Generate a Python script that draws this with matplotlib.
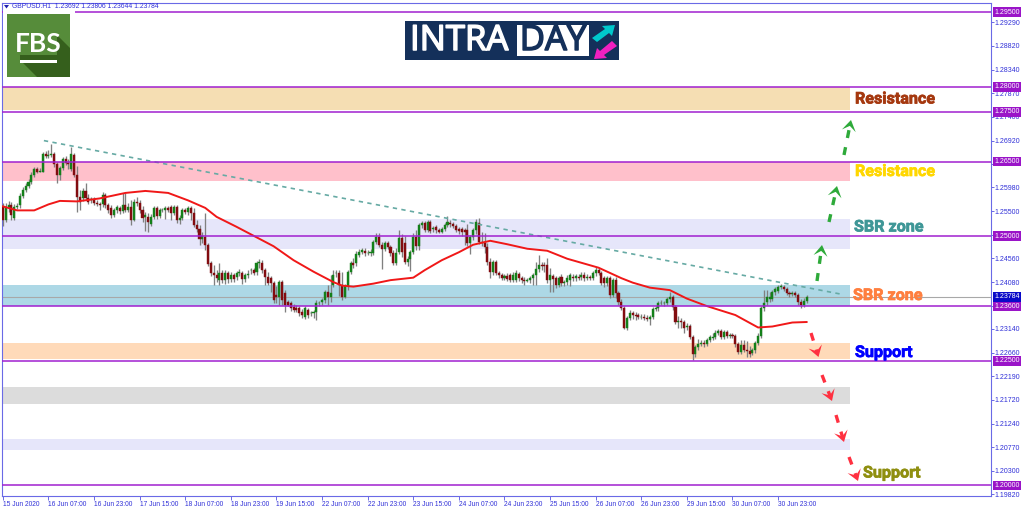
import numpy as np
import matplotlib
matplotlib.use("Agg")
import matplotlib.pyplot as plt
import matplotlib.patheffects as pe
from matplotlib.patches import Polygon, Rectangle

# H1 candles in 1/10000 of a price unit
opens = [12558,12532,12558,12562,12536,12558,12562,12580,12592,12600,
12608,12622,12636,12630,12630,12666,12662,12664,12666,12646,
12622,12638,12656,12648,12636,12664,12622,12578,12576,12590,
12576,12572,12574,12566,12564,12564,12582,12562,12556,12542,
12552,12556,12550,12562,12552,12558,12532,12568,12566,12552,
12538,12538,12524,12538,12556,12540,12552,12552,12556,12558,
12546,12558,12532,12536,12552,12548,12556,12546,12522,12514,
12494,12498,12482,12446,12426,12422,12412,12426,12412,12426,
12414,12422,12418,12426,12426,12414,12422,12432,12432,12428,
12446,12446,12432,12418,12416,12406,12382,12378,12408,12386,
12368,12366,12358,12356,12356,12348,12338,12352,12346,12346,
12348,12366,12368,12372,12388,12378,12402,12426,12426,12402,
12378,12400,12428,12446,12446,12462,12468,12470,12466,12466,
12466,12488,12498,12482,12474,12486,12478,12466,12446,12468,
12496,12486,12448,12454,12468,12498,12480,12522,12526,12512,
12528,12514,12518,12512,12508,12514,12522,12526,12524,12520,
12514,12514,12512,12512,12486,12498,12512,12526,12488,12486,
12478,12448,12428,12448,12426,12422,12416,12420,12422,12412,
12412,12424,12416,12412,12410,12412,12416,12422,12434,12442,
12442,12442,12412,12420,12416,12402,12418,12406,12408,12412,
12418,12416,12418,12418,12422,12416,12418,12416,12426,12432,
12426,12416,12406,12416,12382,12412,12386,12368,12356,12316,
12336,12346,12342,12342,12338,12338,12336,12334,12338,12354,
12356,12366,12366,12366,12374,12378,12358,12328,12330,12328,
12318,12320,12298,12264,12278,12284,12286,12284,12292,12296,
12298,12306,12310,12298,12308,12300,12302,12300,12284,12268,
12282,12272,12270,12266,12272,12286,12300,12356,12368,12374,
12374,12388,12390,12398,12398,12394,12386,12384,12386,12382,
12368,12362,12370]
closes = [12532,12558,12562,12542,12558,12560,12580,12592,12600,12608,
12622,12636,12630,12632,12666,12662,12664,12666,12646,12622,
12638,12656,12648,12646,12666,12622,12578,12568,12590,12576,
12568,12574,12566,12564,12562,12582,12562,12552,12542,12552,
12558,12550,12562,12552,12558,12532,12568,12566,12552,12536,
12542,12528,12538,12556,12540,12552,12552,12556,12552,12546,
12558,12532,12536,12552,12548,12556,12546,12522,12514,12494,
12500,12482,12444,12426,12422,12416,12426,12412,12426,12414,
12422,12414,12426,12428,12414,12422,12424,12432,12426,12446,
12448,12432,12418,12406,12406,12372,12378,12408,12372,12362,
12362,12356,12352,12352,12346,12342,12356,12342,12346,12348,
12366,12366,12372,12388,12378,12386,12422,12426,12402,12378,
12400,12428,12446,12442,12464,12468,12472,12466,12466,12468,
12488,12498,12482,12474,12486,12478,12466,12446,12466,12496,
12468,12448,12454,12468,12498,12480,12522,12526,12512,12528,
12510,12516,12512,12508,12514,12522,12528,12524,12520,12512,
12510,12508,12508,12486,12498,12512,12528,12488,12486,12478,
12448,12428,12448,12426,12422,12416,12420,12414,12412,12422,
12426,12416,12412,12410,12412,12416,12422,12434,12442,12440,
12440,12412,12422,12414,12402,12416,12406,12408,12416,12422,
12416,12420,12416,12422,12416,12418,12416,12426,12432,12426,
12406,12406,12416,12382,12412,12386,12368,12356,12316,12336,
12346,12342,12340,12338,12338,12336,12334,12338,12354,12356,
12366,12366,12366,12374,12378,12358,12328,12330,12328,12316,
12320,12298,12264,12278,12284,12286,12284,12292,12298,12298,
12306,12310,12298,12308,12300,12302,12300,12284,12268,12282,
12272,12270,12264,12272,12286,12300,12356,12366,12378,12378,
12388,12394,12398,12400,12394,12386,12384,12386,12382,12368,
12362,12370,12378]
highs = [12566,12566,12570,12568,12564,12566,12586,12598,12606,12614,
12628,12640,12640,12638,12670,12672,12674,12686,12670,12650,
12642,12660,12662,12656,12680,12668,12642,12592,12596,12606,
12584,12578,12578,12572,12568,12588,12586,12566,12562,12556,
12562,12560,12586,12586,12566,12572,12574,12578,12572,12560,
12548,12546,12544,12560,12560,12556,12556,12560,12560,12562,
12562,12562,12542,12556,12556,12560,12560,12556,12532,12522,
12508,12546,12486,12450,12442,12432,12446,12432,12432,12430,
12428,12426,12430,12434,12430,12426,12432,12436,12436,12450,
12454,12452,12436,12428,12420,12410,12400,12412,12412,12392,
12372,12370,12364,12362,12360,12354,12360,12356,12350,12352,
12372,12370,12376,12392,12402,12422,12432,12432,12432,12428,
12404,12432,12450,12456,12470,12474,12476,12476,12472,12474,
12492,12506,12506,12488,12490,12490,12482,12472,12476,12512,
12504,12500,12460,12472,12506,12512,12526,12530,12530,12532,
12532,12520,12522,12516,12518,12526,12540,12532,12528,12524,
12518,12518,12516,12524,12502,12516,12534,12536,12508,12506,
12486,12456,12452,12452,12430,12426,12424,12426,12426,12428,
12432,12428,12420,12418,12416,12420,12426,12448,12462,12448,
12448,12456,12436,12424,12420,12420,12424,12412,12422,12426,
12424,12424,12424,12428,12428,12424,12422,12430,12438,12436,
12430,12420,12420,12420,12416,12418,12390,12374,12360,12340,
12352,12350,12348,12346,12344,12344,12342,12342,12358,12360,
12370,12372,12370,12378,12388,12382,12362,12340,12336,12332,
12326,12324,12302,12282,12294,12292,12292,12296,12302,12306,
12312,12314,12314,12312,12312,12306,12306,12304,12288,12292,
12292,12290,12280,12276,12290,12306,12360,12392,12392,12388,
12392,12398,12402,12404,12402,12398,12390,12390,12390,12386,
12374,12376,12382]
lows = [12520,12528,12548,12532,12532,12554,12556,12576,12588,12596,
12604,12618,12626,12628,12628,12658,12658,12660,12640,12606,
12612,12634,12644,12636,12632,12618,12548,12552,12570,12572,
12564,12566,12562,12560,12552,12558,12556,12546,12536,12538,
12546,12544,12546,12548,12548,12522,12530,12560,12546,12528,
12510,12508,12520,12534,12534,12536,12548,12534,12548,12532,
12542,12526,12524,12532,12544,12542,12532,12518,12508,12482,
12486,12472,12440,12420,12402,12408,12402,12406,12404,12406,
12408,12408,12412,12420,12404,12408,12416,12424,12422,12422,
12436,12426,12402,12402,12388,12366,12366,12362,12362,12348,
12360,12350,12348,12348,12340,12336,12334,12336,12340,12336,
12332,12360,12362,12366,12362,12368,12398,12418,12380,12372,
12376,12392,12424,12436,12440,12458,12464,12460,12462,12460,
12462,12484,12478,12434,12470,12474,12460,12442,12442,12464,
12458,12444,12440,12430,12464,12472,12472,12516,12508,12508,
12506,12508,12506,12506,12506,12510,12518,12518,12516,12508,
12504,12500,12482,12480,12464,12492,12504,12484,12480,12466,
12442,12416,12422,12422,12416,12412,12412,12410,12408,12408,
12408,12410,12406,12402,12408,12406,12402,12402,12428,12432,
12428,12406,12388,12388,12396,12398,12400,12400,12402,12400,
12410,12410,12412,12412,12410,12412,12412,12412,12420,12422,
12402,12398,12400,12376,12378,12376,12362,12352,12314,12312,
12332,12334,12332,12334,12334,12332,12330,12322,12334,12350,
12350,12362,12360,12362,12368,12352,12324,12316,12316,12306,
12312,12294,12252,12258,12272,12280,12278,12280,12288,12292,
12294,12302,12294,12294,12296,12296,12296,12278,12264,12264,
12268,12258,12258,12262,12266,12282,12296,12350,12362,12368,
12370,12382,12386,12394,12390,12382,12378,12380,12378,12362,
12356,12358,12366]

# moving average, read at some of the bars
ma_bars = [0,5,11,16,20,26,34,43,50,58,65,71,75,82,88,95,102,109,116,119,
           123,130,136,144,148,154,160,165,171,177,184,191,198,209,217,221,
           227,234,240,247,257,265,270,277,282]
ma_vals = [12560,12552,12552,12564,12571,12570,12576,12587,12591,12587,12572,
           12557,12539,12519,12501,12480,12452,12429,12408,12401,12399,12405,
           12412,12417,12432,12452,12468,12483,12491,12484,12475,12471,12455,
           12437,12416,12407,12397,12392,12375,12360,12342,12317,12319,12327,
           12328]

# trend line, bar positions and prices at both ends
trend_bars = [14.4, 294]
trend_vals = [1.2692, 1.2384]

level_vals = [1.295, 1.28, 1.275, 1.265, 1.25, 1.236, 1.225, 1.2]
level_tags = ["1.29500", "1.28000", "1.27500", "1.26500", "1.25000", "1.23600", "1.22500", "1.20000"]
last_price = 1.23784

zone_lo = [1.2754, 1.2610, 1.2474, 1.2360, 1.2254, 1.2164, 1.2072]
zone_hi = [1.2800, 1.2650, 1.2534, 1.2402, 1.2286, 1.2198, 1.2094]
zone_colors = ["#f5deb3", "#ffc0cb", "#e6e6fa", "#add8e6", "#ffdab9", "#dcdcdc", "#e6e6fa"]
zone_end = 297.2

y_ticks = [1.2929, 1.2882, 1.2834, 1.2787, 1.2740, 1.2692, 1.2645, 1.2598, 1.2550, 1.2503,
           1.2456, 1.2408, 1.2361, 1.2314, 1.2266, 1.2219, 1.2172, 1.2124, 1.2077, 1.2030, 1.1982]
# these three sit right under a price tag
y_hidden = [1.2645, 1.2503, 1.2361]
x_labels = ["15 Jun 2020", "16 Jun 07:00", "16 Jun 23:00", "17 Jun 15:00", "18 Jun 07:00",
            "18 Jun 23:00", "19 Jun 15:00", "22 Jun 07:00", "22 Jun 23:00", "23 Jun 15:00",
            "24 Jun 07:00", "24 Jun 23:00", "25 Jun 15:00", "26 Jun 07:00", "26 Jun 23:00",
            "29 Jun 15:00", "30 Jun 07:00", "30 Jun 23:00"]

label_texts = ["Resistance", "Resistance", "SBR zone", "SBR zone", "Support", "Support"]
label_x = [855, 855, 854, 853, 855, 863]
label_y = [99, 171.5, 227, 295.5, 352.5, 473]
label_colors = ["#a5380f", "#ffd700", "#3f9797", "#ff7f3f", "#0000ff", "#8f8f10"]

axis_col = "#6a6ae6"
text_col = "#3030d8"
purple = "#a020d0"

plt.rcParams["font.family"] = ["Liberation Sans", "DejaVu Sans"]
fig = plt.figure(figsize=(10.24, 5.11), dpi=100)
ax = fig.add_axes([2 / 1024, 15 / 511, 989 / 1024, 493 / 511])

o = np.array(opens) / 10000
c = np.array(closes) / 10000
h = np.array(highs) / 10000
l = np.array(lows) / 10000
x = np.arange(len(c))

for lo, hi, col in zip(zone_lo, zone_hi, zone_colors):
    ax.fill_between([-1, zone_end], lo, hi, color=col, lw=0, zorder=1)

ax.axhline(last_price, color="#a8a8a8", lw=0.8, zorder=2)

# candles
up = c >= o
ax.vlines(x, l, h, color="#808080", lw=0.95, zorder=3)
ax.bar(x[up], (c - o)[up], bottom=o[up], width=0.72, color="#14801a", lw=0.3, edgecolor="#14801a", zorder=4)
ax.bar(x[~up], (o - c)[~up], bottom=c[~up], width=0.72, color="#820c10", lw=0.3, edgecolor="#820c10", zorder=4)

ax.plot(ma_bars, np.array(ma_vals) / 10000, color="#f01818", lw=1.4, zorder=5)
ax.plot(trend_bars, trend_vals, color="#66aaa4", lw=1.2, ls=(0, (2.6, 2.6)), zorder=5)
for v in level_vals:
    ax.axhline(v, color=purple, lw=1.1, zorder=6)

ax.set_xlim(-0.3, 346.7)
ax.set_ylim(1.19789, 1.29681)
ax.set_xticks(np.arange(len(x_labels)) * 16)
ax.set_xticklabels(x_labels, ha="left")
ax.set_yticks(y_ticks)
ax.set_yticklabels(["" if v in y_hidden else "%.5f" % v for v in y_ticks])
ax.yaxis.tick_right()
ax.tick_params(axis="x", length=3, width=0.7, color=axis_col, labelcolor=text_col, labelsize=4.8, pad=0.6)
ax.tick_params(axis="y", length=2, width=0.7, color=axis_col, labelcolor=text_col, labelsize=5, pad=0.4)
for s in ax.spines.values():
    s.set_color(axis_col)
    s.set_linewidth(0.8)

# price tags on the right hand scale
for v, t in zip(level_vals, level_tags):
    ax.text(1.0163, v, t, transform=ax.get_yaxis_transform(), ha="center", va="center", color="white",
            fontsize=5, zorder=8, clip_on=False,
            bbox=dict(boxstyle="square,pad=0.2", fc="#9a14c8", ec="none"))
ax.text(1.0163, last_price, "1.23784", transform=ax.get_yaxis_transform(), ha="center", va="center",
        color="white", fontsize=5, zorder=8, clip_on=False,
        bbox=dict(boxstyle="square,pad=0.2", fc="#0a0ac8", ec="none"))

# overlay in image pixels for logos, labels and the drawn arrows
ov = fig.add_axes([0, 0, 1, 1], facecolor="none")
ov.set_xlim(0, 1024)
ov.set_ylim(511, 0)
ov.axis("off")

ov.text(12.5, 7, "GBPUSD.H1  1.23692 1.23806 1.23644 1.23784", color=text_col, fontsize=4.9, va="center", zorder=6)
ov.add_patch(Polygon([(4, 5), (9, 5), (6.5, 8.5)], fc="#2020b0", ec="none"))

# FBS logo
ov.add_patch(Rectangle((3, 10), 72, 70, fc="white", ec="none", zorder=1))
ov.add_patch(Rectangle((7, 14), 63, 63, fc="#568c3a", ec="none", zorder=2))
ov.add_patch(Polygon([(57, 35), (70, 48), (70, 77), (37, 77), (20, 60), (20, 55), (57, 55)],
                     fc="#355f1c", ec="none", zorder=3))
ov.text(38.5, 44.5, "FBS", color="white", fontsize=19, fontweight="bold", family="Lato",
        ha="center", va="center", zorder=4)
ov.add_patch(Rectangle((20, 60), 37, 3.5, fc="white", ec="none", zorder=4))

# INTRADAY logo
bold_logo = [pe.withStroke(linewidth=1.1, foreground="white")]
bold_logo2 = [pe.withStroke(linewidth=1.1, foreground="#14305a")]
ov.add_patch(Rectangle((405, 21), 214, 39, fc="#14305a", ec="none", zorder=1))
ov.add_patch(Rectangle((517, 25), 72, 31, fc="white", ec="none", zorder=2))
ov.text(410, 41, "INTRA", color="white", fontsize=25, family="Open Sans", va="center", zorder=3, path_effects=bold_logo)
ov.text(553, 41, "DAY", color="#14305a", fontsize=25, family="Open Sans", ha="center", va="center", zorder=3,
        path_effects=bold_logo2)
ov.add_patch(Polygon([(592, 38), (605, 29), (602, 26), (615, 25), (612, 36), (609, 33), (597, 42)],
                     fc="#00c8cc", ec="none", zorder=3))
ov.add_patch(Polygon([(617, 46), (604, 55), (607, 58), (594, 59), (597, 48), (600, 51), (612, 41)],
                     fc="#f020c0", ec="none", zorder=3))

for t, tx, ty, col in zip(label_texts, label_x, label_y, label_colors):
    ov.text(tx, ty, t, color=col, fontsize=11.6, family="Roboto", fontweight="bold", va="center",
            path_effects=[pe.withStroke(linewidth=0.5, foreground=col)])


def arrow(start, tip, col):
    start = np.array(start, float)
    tip = np.array(tip, float)
    d = (tip - start) / np.hypot(*(tip - start))
    n = np.array([-d[1], d[0]])
    neck = tip - d * 5
    ov.plot([start[0], neck[0]], [start[1], neck[1]], color=col, lw=2.4, ls=(0, (2.4, 2.8)),
            dash_capstyle="butt")
    ov.add_patch(Polygon([tip, tip - d * 11 + n * 7, tip - d * 6, tip - d * 11 - n * 7], fc=col, ec="none"))


arrow((817, 281), (822, 245), "#2eaa3a")
arrow((829, 222), (837, 186), "#2eaa3a")
arrow((844, 155), (851, 120), "#2eaa3a")
arrow((811, 333), (818.5, 357), "#ff3040")
arrow((822, 375), (832, 401), "#ff3040")
arrow((836, 415), (844, 442), "#ff3040")
arrow((849, 457), (858, 481), "#ff3040")

fig.savefig("out.png", dpi=100)
